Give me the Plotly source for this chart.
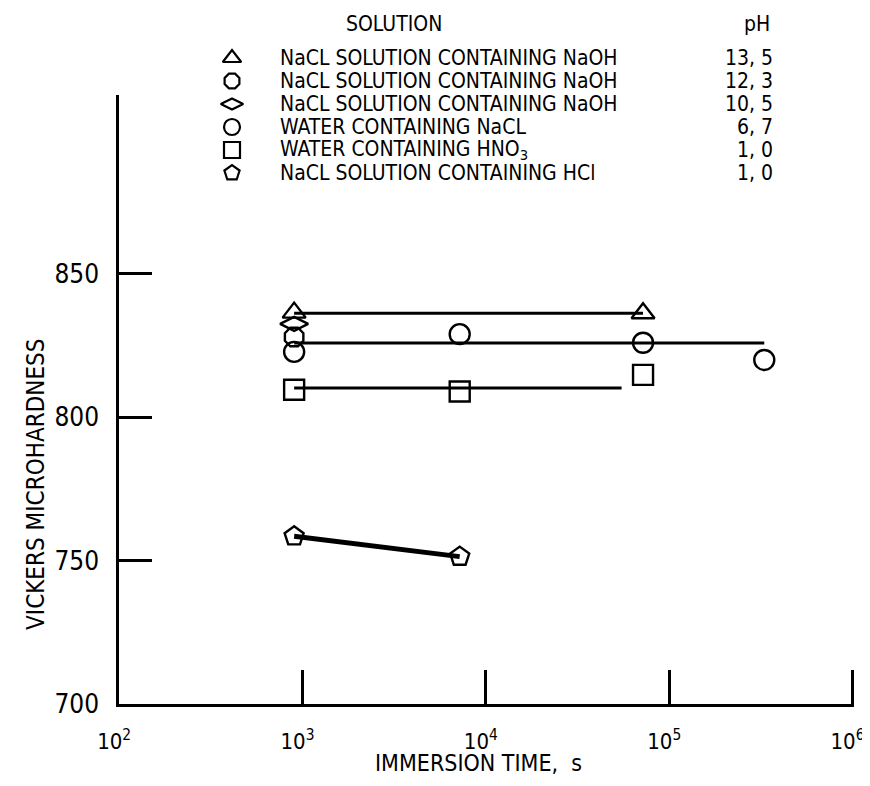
import plotly.graph_objects as go

# ---------------- data ----------------
t_ph135 = [900, 72000]
h_ph135 = [836.5, 836.3]
fit_ph135_t = [900, 72000]
fit_ph135_h = [836.3, 836.3]

t_ph123 = [900]
h_ph123 = [828.0]

t_ph105 = [900]
h_ph105 = [832.6]

t_ph67 = [900, 7200, 72000, 330000]
h_ph67 = [822.8, 829.0, 826.0, 820.0]
fit_ph67_t = [900, 330000]
fit_ph67_h = [825.9, 825.9]

t_hno3 = [900, 7200, 72000]
h_hno3 = [809.6, 809.0, 814.8]
fit_hno3_t = [900, 55000]
fit_hno3_h = [810.2, 810.2]

t_hcl = [900, 7200]
h_hcl = [758.5, 751.4]

legend_labels = [
    "NaCL SOLUTION CONTAINING NaOH",
    "NaCL SOLUTION CONTAINING NaOH",
    "NaCL SOLUTION CONTAINING NaOH",
    "WATER CONTAINING NaCL",
    "WATER CONTAINING HNO<sub>3</sub>",
    "NaCL SOLUTION CONTAINING HCl",
]
legend_ph = ["13, 5", "12, 3", "10, 5", "6, 7", "1, 0", "1, 0"]
symbols = ["triangle-up-open", "octagon-open", "diamond-wide-open",
           "circle-open", "square-open", "pentagon-open"]

x_tickvals = [1e2, 1e3, 1e4, 1e5, 1e6]
x_ticktext = ["10<sup>2</sup>", "10<sup>3</sup>", "10<sup>4</sup>",
              "10<sup>5</sup>", "10<sup>6</sup>"]
y_tickvals = [700, 750, 800, 850]

# ---------------- layout geometry (screen pixels) ----------------
OFF = 8                      # default body margin of the html page
W, H = 870 - OFF, 786 - 2 * OFF   # keep the page free of scrollbars
SL, SR, ST, SB = 119, 854, 95, 704     # plot box on screen
ML = SL - OFF
MR = W - (SR - OFF)
MB = H - (SB - OFF)
PH = H - MB                  # plot region height (top margin 0)
FONT = "Liberation Sans Narrow, DejaVu Sans Condensed, Arial Narrow, sans-serif"


def px(sx):
    return (sx - SL) / (SR - SL)


def py(sy):
    return (SB - sy) / PH


fig = go.Figure()

mk = dict(color="black", size=20, line=dict(color="black", width=2.4))

# fitted / connecting lines
for xs, ys, w in [(fit_ph135_t, fit_ph135_h, 3), (fit_ph67_t, fit_ph67_h, 3),
                  (fit_hno3_t, fit_hno3_h, 3), (t_hcl, h_hcl, 5)]:
    fig.add_trace(go.Scatter(x=xs, y=ys, mode="lines",
                             line=dict(color="black", width=w),
                             showlegend=False, hoverinfo="skip"))

series = [(t_ph135, h_ph135), (t_ph123, h_ph123), (t_ph105, h_ph105),
          (t_ph67, h_ph67), (t_hno3, h_hno3), (t_hcl, h_hcl)]
for (xs, ys), sym in zip(series, symbols):
    m = dict(mk)
    m["symbol"] = sym
    fig.add_trace(go.Scatter(x=xs, y=ys, mode="markers", marker=m,
                             showlegend=False, cliponaxis=False))

# custom legend (markers on an invisible full-height axis pair)
row_y = [58, 81, 104, 127, 150, 173]
fig.add_trace(go.Scatter(
    x=[px(232)] * len(symbols), y=[py(v) for v in row_y],
    mode="markers", xaxis="x2", yaxis="y2", cliponaxis=False,
    marker=dict(symbol=symbols, color="black", size=16,
                line=dict(color="black", width=2.2)),
    showlegend=False, hoverinfo="skip"))

fs = 21
ann = []
ann.append(dict(x=px(394), y=py(24), xref="paper", yref="paper",
                text="SOLUTION", showarrow=False, xanchor="center",
                yanchor="middle", font=dict(size=fs, family=FONT, color="black")))
ann.append(dict(x=px(757), y=py(24), xref="paper", yref="paper",
                text="pH", showarrow=False, xanchor="center",
                yanchor="middle", font=dict(size=fs, family=FONT, color="black")))
for yv, lab, ph in zip(row_y, legend_labels, legend_ph):
    ann.append(dict(x=px(278), y=py(yv), xref="paper", yref="paper",
                    text=lab, showarrow=False, xanchor="left",
                    yanchor="middle", font=dict(size=fs, family=FONT, color="black")))
    ann.append(dict(x=px(775), y=py(yv), xref="paper", yref="paper",
                    text=ph, showarrow=False, xanchor="right",
                    yanchor="middle", font=dict(size=fs, family=FONT, color="black")))

# axis titles
ann.append(dict(x=px(36), y=py(484), xref="paper", yref="paper",
                text="VICKERS MICROHARDNESS", textangle=-90, showarrow=False,
                xanchor="center", yanchor="middle",
                font=dict(size=24, family=FONT, color="black")))
ann.append(dict(x=px(478), y=py(763), xref="paper", yref="paper",
                text="IMMERSION TIME,  s", showarrow=False,
                xanchor="center", yanchor="middle",
                font=dict(size=23, family=FONT, color="black")))

fig.update_layout(
    width=W, height=H,
    margin=dict(l=ML, r=MR, t=0, b=MB, pad=0),
    paper_bgcolor="white", plot_bgcolor="rgba(0,0,0,0)",
    font=dict(family=FONT, color="black"),
    annotations=ann,
    xaxis=dict(type="log", range=[1.999, 6.008], tickvals=x_tickvals,
               ticktext=x_ticktext, ticks="inside", ticklen=34,
               tickwidth=2.5, tickcolor="black", showline=True,
               linecolor="black", linewidth=2.5, showgrid=False,
               zeroline=False, tickfont=dict(size=22, family=FONT),
               ticklabelstandoff=16, ticklabelshift=-5,
               ticklabeloverflow="allow"),
    yaxis=dict(range=[700, 912.4], domain=[0, py(ST)], tickvals=y_tickvals,
               ticks="inside", ticklen=33, tickwidth=2.5, tickcolor="black",
               showline=True, linecolor="black", linewidth=2.5,
               showgrid=False, zeroline=False,
               tickfont=dict(size=26, family=FONT), ticklabelstandoff=12,
               ticklabeloverflow="allow"),
    xaxis2=dict(range=[0, 1], domain=[0, 1], anchor="y2", visible=False,
                fixedrange=True),
    yaxis2=dict(range=[0, 1], domain=[0, 1], anchor="x2", visible=False,
                fixedrange=True),
)

fig.write_html("out.html")
